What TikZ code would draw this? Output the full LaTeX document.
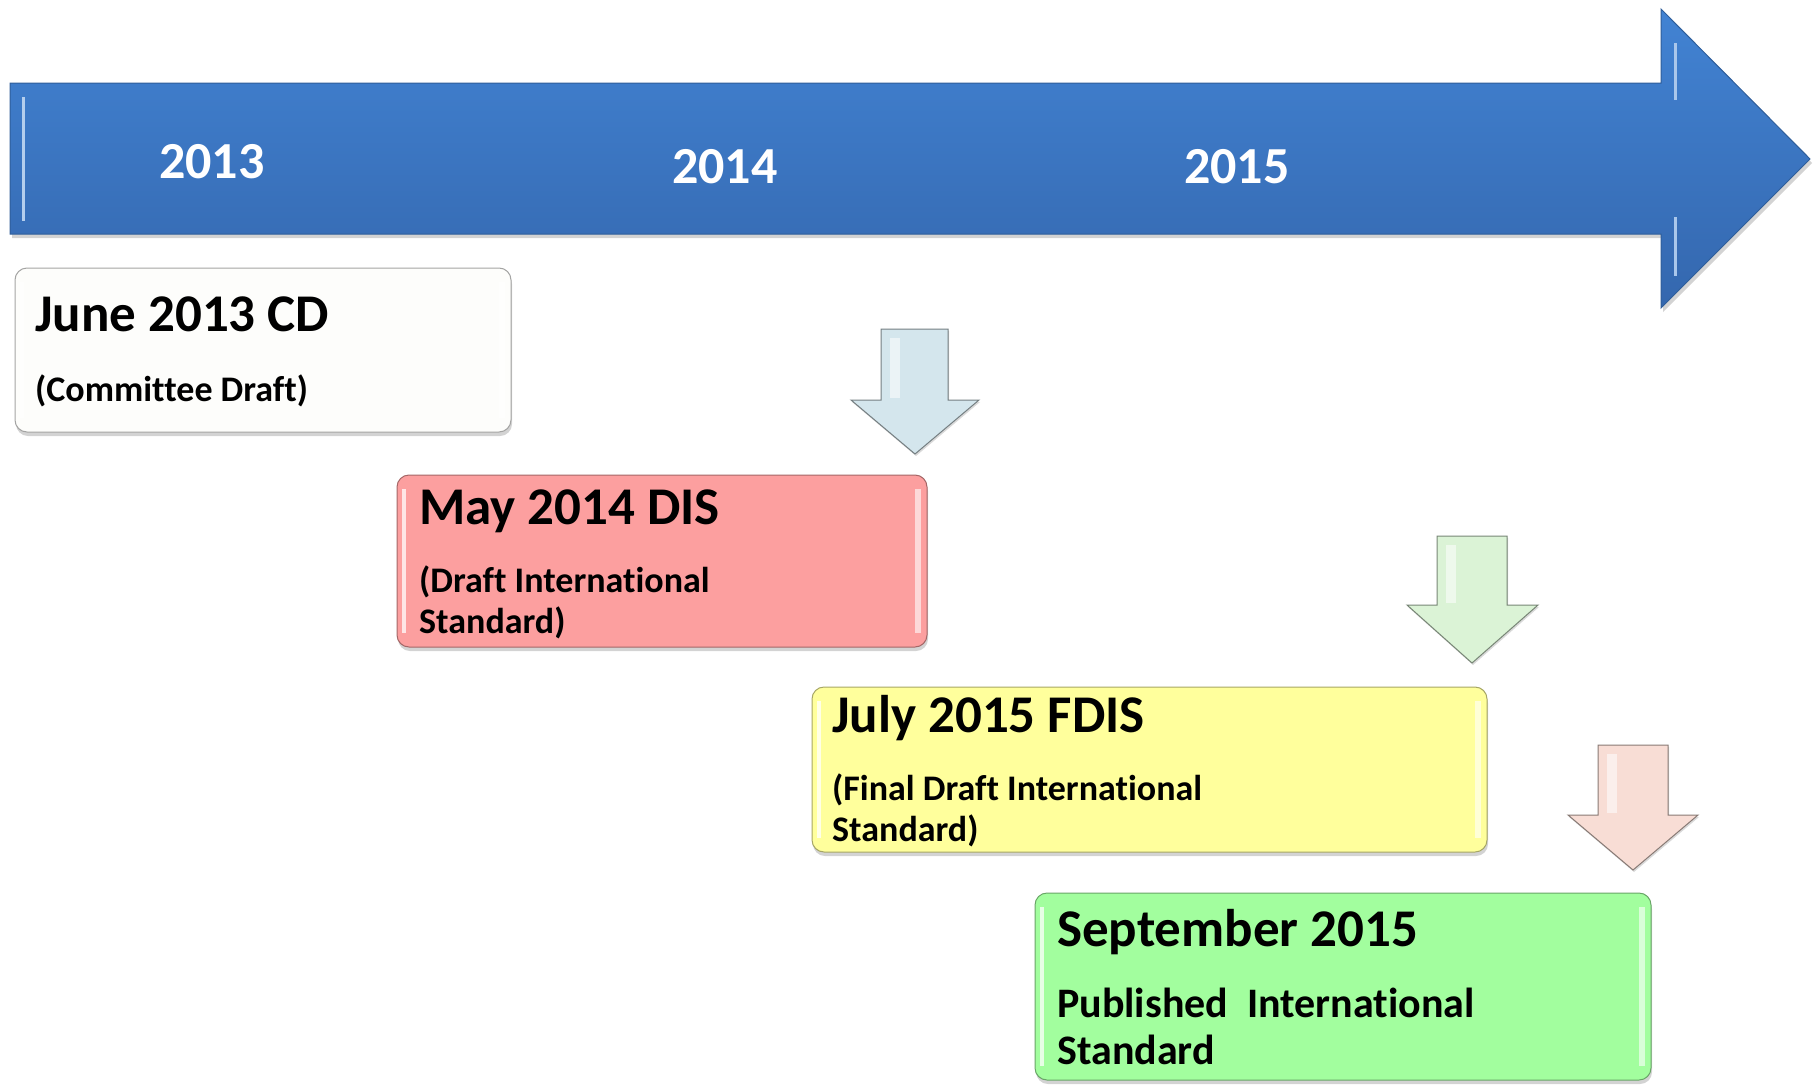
\documentclass[tikz,border=0pt]{standalone}
\usepackage{fontspec}
\setmainfont[Ligatures=NoCommon]{Carlito}
\usetikzlibrary{shadows}

\definecolor{bartop}{HTML}{4283D3}
\definecolor{barbot}{HTML}{3467AE}
\definecolor{barline}{HTML}{2F5E9A}
\definecolor{cdfill}{HTML}{FDFDFB}
\definecolor{disfill}{HTML}{FC9F9F}
\definecolor{fdisfill}{HTML}{FFFF9C}
\definecolor{isfill}{HTML}{A2FE9E}
\definecolor{arrblue}{HTML}{D4E6ED}
\definecolor{arrgreen}{HTML}{DBF3D6}
\definecolor{arrpink}{HTML}{F8DDD5}

\tikzset{
  stage/.style={draw=#1!65!black, fill=#1, rounded corners=12pt, line width=1pt,
    drop shadow={shadow xshift=1pt, shadow yshift=-4pt, opacity=.35},
    path picture={
      \draw[white, opacity=.75, line width=4pt]
        ([xshift=7pt, yshift=-14pt]path picture bounding box.north west) --
        ([xshift=7pt, yshift=14pt]path picture bounding box.south west);
      \draw[white, opacity=.6, line width=6pt]
        ([xshift=-9pt, yshift=-14pt]path picture bounding box.north east) --
        ([xshift=-9pt, yshift=14pt]path picture bounding box.south east);}},
  year/.style={text=white, font=\bfseries\fontsize{52}{60}\selectfont, anchor=base west, inner sep=0pt},
  title/.style={font=\bfseries\fontsize{53}{60}\selectfont, anchor=base west, inner sep=0pt},
  sub/.style={font=\bfseries\fontsize{36}{41}\selectfont, anchor=base west, inner sep=0pt, align=left},
  downarr/.style={draw=#1!55!black, fill=#1, line width=1pt,
    drop shadow={shadow xshift=1pt, shadow yshift=-2pt, opacity=.3}},
  shine/.style={fill=white, opacity=.55}
}

\begin{document}
\begin{tikzpicture}[x=1pt, y=-1pt]
  \useasboundingbox (0,0) rectangle (1817,1084);

  % Timeline arrow
  \path[draw=barline, line width=1pt, top color=bartop, bottom color=barbot,
        drop shadow={shadow xshift=2pt, shadow yshift=-4pt, opacity=.35}]
    (10,83) -- (1661,83) -- (1661,9) -- (1810,159) -- (1661,308) -- (1661,234) -- (10,234) -- cycle;
  \draw[white!60!bartop, line width=3pt] (23,97) -- (23,221);
  \draw[white!55!bartop, line width=3pt] (1675,43) -- (1675,100);
  \draw[white!55!bartop, line width=3pt] (1675,217) -- (1675,276);

  \node[year] (y2013) at (159,178) {2013};
  \node[year] (y2014) at (672,183) {2014};
  \node[year] (y2015) at (1184,183) {2015};

  % Stages
  \node[stage=cdfill, minimum width=496pt, minimum height=164pt] (cd) at (263,350) {};
  \node[stage=disfill, minimum width=530pt, minimum height=172pt] (dis) at (662,561) {};
  \node[stage=fdisfill, minimum width=675pt, minimum height=165pt] (fdis) at (1149.5,769.5) {};
  \node[stage=isfill, minimum width=616pt, minimum height=187pt] (is) at (1343,986.5) {};

  \node[title] (cdt) at (35,331) {June 2013 CD};
  \node[sub] (cds) at (35,401) {(Committee Draft)};

  \node[title] (dist) at (419,524) {May 2014 DIS};
  \node[sub] (diss) at (419,633) {(Draft International\\Standard)};

  \node[title] (fdist) at (832,732) {July 2015 FDIS};
  \node[sub] (fdiss) at (832,841) {(Final Draft International\\Standard)};

  \node[title] (ist) at (1057,946) {September 2015};
  \node[sub, font=\bfseries\fontsize{42}{47}\selectfont] (iss) at (1057,1064) {Published\ \ International\\Standard};

  % Down arrows
  \draw[downarr=arrblue] (881,329) -- (948,329) -- (948,400) -- (979,400) -- (915,454) -- (851,400) -- (881,400) -- cycle;
  \fill[shine] (890,338) rectangle (900,398);
  \draw[downarr=arrgreen] (1437,536) -- (1507,536) -- (1507,605) -- (1538,605) -- (1472,663) -- (1407,605) -- (1437,605) -- cycle;
  \fill[shine] (1446,545) rectangle (1456,603);
  \draw[downarr=arrpink] (1598,745) -- (1668,745) -- (1668,815) -- (1698,815) -- (1633,870) -- (1568,815) -- (1598,815) -- cycle;
  \fill[shine] (1607,754) rectangle (1617,813);
\end{tikzpicture}
\end{document}
